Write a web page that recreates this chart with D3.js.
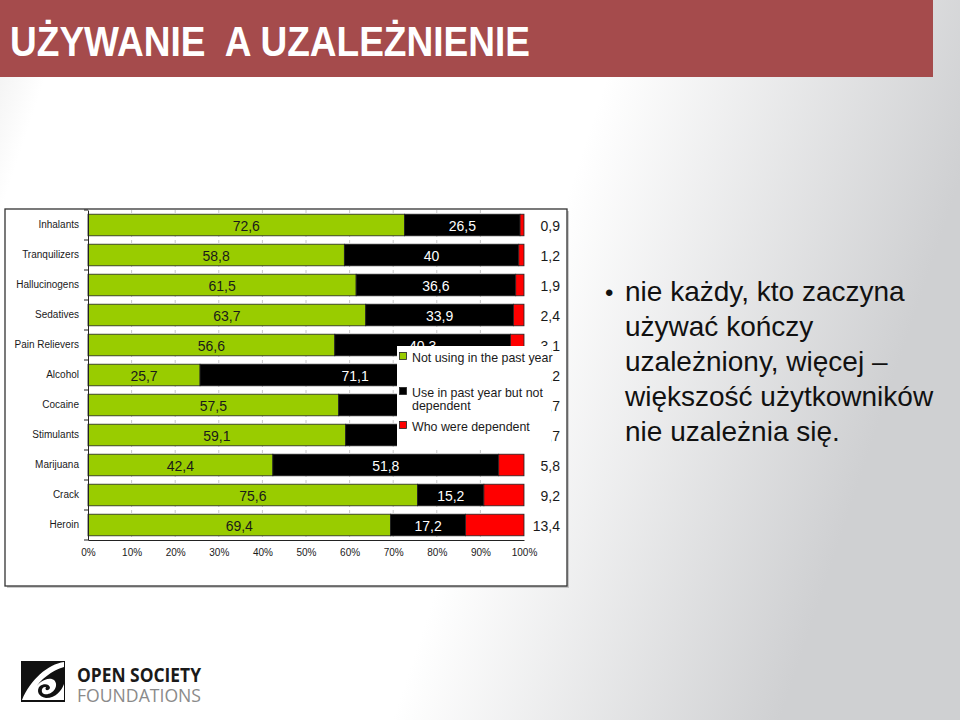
<!DOCTYPE html>
<html>
<head>
<meta charset="utf-8">
<script src="https://cdn.jsdelivr.net/npm/d3@7"></script>
<style>
  html, body { margin: 0; padding: 0; background: #fff; }
  svg { display: block; }
  text { white-space: pre; }
</style>
</head>
<body>
<svg id="chart" width="960" height="720"></svg>
<script>
const categories = ["Inhalants","Tranquilizers","Hallucinogens","Sedatives","Pain Relievers","Alcohol","Cocaine","Stimulants","Marijuana","Crack","Heroin"];
const notUsing   = [72.6, 58.8, 61.5, 63.7, 56.6, 25.7, 57.5, 59.1, 42.4, 75.6, 69.4];
const useNotDep  = [26.5, 40.0, 36.6, 33.9, 40.3, 71.1, 37.8, 37.2, 51.8, 15.2, 17.2];
const dependent  = [0.9, 1.2, 1.9, 2.4, 3.1, 3.2, 4.7, 3.7, 5.8, 9.2, 13.4];
const seriesNames = ["Not using in the past year", "Use in past year but not dependent", "Who were dependent"];
const xTicks = [0,10,20,30,40,50,60,70,80,90,100];
const titleText = "UŻYWANIE  A UZALEŻNIENIE";
const bulletLines = ["nie każdy, kto zaczyna", "używać kończy", "uzależniony, więcej –", "większość użytkowników", "nie uzależnia się."];

const svg = d3.select("#chart");
const defs = svg.append("defs");

// background gradient
const bg = defs.append("linearGradient").attr("id","bg").attr("x1","0").attr("x2","1").attr("y1","0").attr("y2","0.25");
bg.append("stop").attr("offset","0").attr("stop-color","#eeeeee");
bg.append("stop").attr("offset","0.07").attr("stop-color","#ffffff");
bg.append("stop").attr("offset","0.62").attr("stop-color","#ffffff");
bg.append("stop").attr("offset","1").attr("stop-color","#cfd0d2");
svg.append("rect").attr("width",960).attr("height",720).attr("fill","url(#bg)");

// title bar
svg.append("rect").attr("x",0).attr("y",0).attr("width",933).attr("height",77).attr("fill","#a54b4c");
svg.append("text").attr("x",10).attr("y",56)
  .attr("font-family","'Liberation Sans Narrow','Arial Narrow','Liberation Sans',Arial,sans-serif")
  .attr("font-weight","bold").attr("font-size",43).attr("fill","#fff")
  .attr("textLength",520).attr("lengthAdjust","spacingAndGlyphs")
  .text(titleText);

// chart frame
svg.append("rect").attr("x",7).attr("y",211).attr("width",562).attr("height",377).attr("fill","#9a9a9a").attr("opacity",0.5);
svg.append("rect").attr("x",5).attr("y",209).attr("width",562).attr("height",377)
  .attr("fill","#fff").attr("stroke","#333").attr("stroke-width",1.3);

const plotLeft = 88, plotRight = 524, plotTop = 210, plotBottom = 540;
const x = d3.scaleLinear().domain([0,100]).range([plotLeft, plotRight]);
const y = d3.scaleBand().domain(categories).range([plotTop, plotBottom]).paddingInner(0.28).paddingOuter(0.14);

const g = svg.append("g");

// gridlines
g.selectAll("line.grid").data(xTicks.slice(1, -1)).join("line")
  .attr("x1", d => x(d)).attr("x2", d => x(d))
  .attr("y1", plotTop).attr("y2", plotBottom)
  .attr("stroke","#c8c8c8").attr("stroke-dasharray","3,3").attr("stroke-width",1);

const rows = categories.map((c,i) => ({cat:c, vals:[notUsing[i], useNotDep[i], dependent[i]]}));
const colors = ["#99cc00", "#000000", "#ff0000"];

rows.forEach(r => {
  let acc = 0;
  r.segs = r.vals.map((v,k) => { const s = {k, v, x0: acc, x1: acc + v, cat: r.cat}; acc += v; return s; });
});

const segs = rows.flatMap(r => r.segs);
g.selectAll("rect.bar").data(segs).join("rect")
  .attr("x", d => x(d.x0))
  .attr("width", d => x(d.x1) - x(d.x0))
  .attr("y", d => y(d.cat))
  .attr("height", y.bandwidth())
  .attr("fill", d => colors[d.k])
  .attr("stroke","#222").attr("stroke-width",0.8);

// labels inside
const font = "'Liberation Sans',Arial,Helvetica,sans-serif";
g.selectAll("text.in").data(segs.filter(d => d.k < 2)).join("text")
  .attr("x", d => x((d.x0 + d.x1)/2))
  .attr("y", d => y(d.cat) + y.bandwidth()/2 + 5.5)
  .attr("text-anchor","middle")
  .attr("font-family",font).attr("font-size",14)
  .attr("fill", d => d.k === 0 ? "#1a1a1a" : "#ffffff")
  .text(d => String(d.v).replace(".", ","));

// dependent labels on the right
g.selectAll("text.out").data(segs.filter(d => d.k === 2)).join("text")
  .attr("x", 560)
  .attr("y", d => y(d.cat) + y.bandwidth()/2 + 5.5)
  .attr("text-anchor","end")
  .attr("font-family",font).attr("font-size",14)
  .attr("fill","#1a1a1a")
  .text(d => String(d.v).replace(".", ","));

// axes
const xAxis = d3.axisBottom(x).tickValues(xTicks).tickFormat(d => d + "%").tickSize(0).tickPadding(9);
const xg = svg.append("g").attr("transform",`translate(0,${plotBottom})`).call(xAxis);
xg.select(".domain").attr("stroke","#222").attr("stroke-width",1);
xg.selectAll("text").attr("font-family",font).attr("font-size",10).attr("fill","#1a1a1a");

const yAxis = d3.axisLeft(y).tickSize(0).tickPadding(9);
const yg = svg.append("g").attr("transform",`translate(${plotLeft},0)`).call(yAxis);
yg.select(".domain").attr("stroke","#222").attr("stroke-width",1);
yg.selectAll("text").attr("font-family",font).attr("font-size",10).attr("fill","#1a1a1a");

// tick marks at band boundaries
const boundaries = d3.range(categories.length + 1).map(i => plotTop + i * (plotBottom - plotTop) / categories.length);
svg.selectAll("line.yt").data(boundaries).join("line")
  .attr("x1", plotLeft - 4).attr("x2", plotLeft).attr("y1", d => d).attr("y2", d => d)
  .attr("stroke","#222").attr("stroke-width",1);

// legend (covers part of the chart, as in the original)
const lg = svg.append("g");
lg.append("rect").attr("x",397).attr("y",346).attr("width",154).attr("height",102).attr("fill","#fff");
const legendItems = [
  {k:0, lines:["Not using in the past year"], y:357},
  {k:1, lines:["Use in past year but not","dependent"], y:392},
  {k:2, lines:["Who were dependent"], y:426}
];
legendItems.forEach(it => {
  lg.append("rect").attr("x",399.5).attr("y",it.y - 4.5).attr("width",7).attr("height",7)
    .attr("fill",colors[it.k]).attr("stroke","#222").attr("stroke-width",0.8);
  it.lines.forEach((t,j) => {
    lg.append("text").attr("x",412).attr("y",it.y + 4.5 + j*13)
      .attr("font-family",font).attr("font-size",12.4).attr("fill","#1a1a1a").text(t);
  });
});

// bullet text
const bt = svg.append("g").attr("font-family",font).attr("font-size",28).attr("fill","#111");
bt.append("text").attr("x",605).attr("y",301).attr("font-size",24).text("•");
bulletLines.forEach((t,i) => {
  bt.append("text").attr("x",625).attr("y",301 + i*35).text(t);
});

// logo
const logo = svg.append("g");
logo.append("rect").attr("x",21).attr("y",661).attr("width",44).attr("height",41).attr("fill","#111");
logo.append("path")
  .attr("d","M22,700 C30,680 48,664 64,662 L64,667 C52,670 40,680 34,690 C38,682 48,676 54,680 C60,686 52,696 44,694 C40,692 42,686 46,687 C44,690 48,692 50,688 C50,684 44,683 40,686 C36,690 38,697 46,698 C56,698 62,690 64,684 L64,700 Z")
  .attr("fill","#fff");
logo.append("text").attr("x",77).attr("y",682)
  .attr("font-family","'Liberation Sans Narrow','Open Sans',sans-serif").attr("font-weight","bold").attr("font-size",19)
  .attr("fill","#1a1a1a").attr("textLength",124).attr("lengthAdjust","spacingAndGlyphs").text("OPEN SOCIETY");
logo.append("text").attr("x",77).attr("y",702)
  .attr("font-family","'Liberation Sans Narrow','Open Sans',sans-serif").attr("font-size",19)
  .attr("fill","#8a8a8a").attr("textLength",124).attr("lengthAdjust","spacingAndGlyphs").text("FOUNDATIONS");
</script>
</body>
</html>
